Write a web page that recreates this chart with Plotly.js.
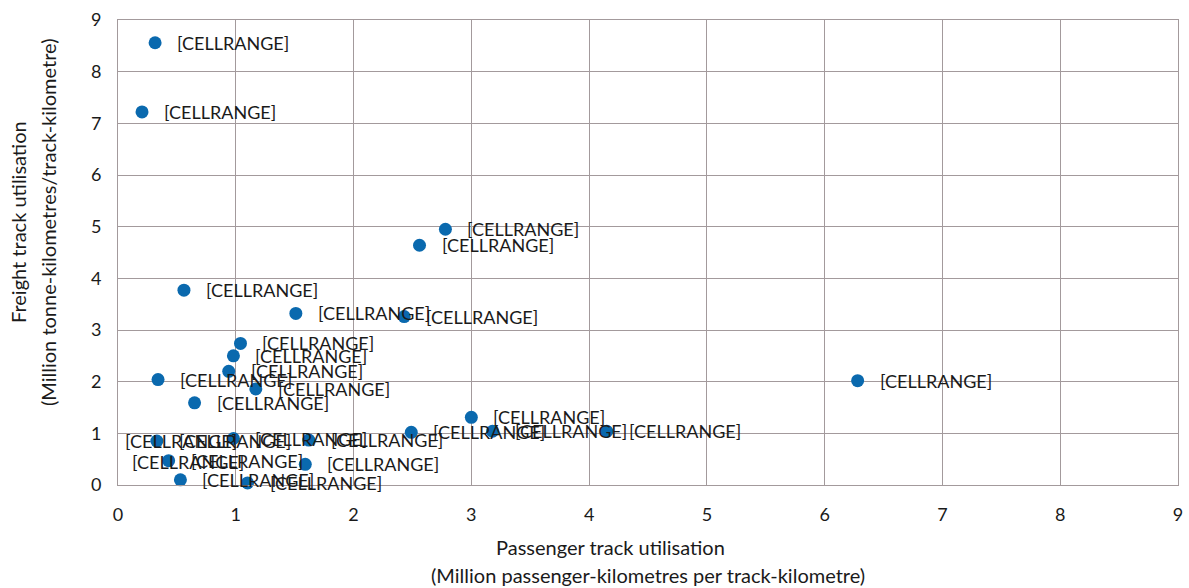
<!DOCTYPE html>
<html>
<head>
<meta charset="utf-8">
<script src="https://cdn.plot.ly/plotly-3.0.1.min.js"></script>
<style>html,body{margin:0;padding:0;background:#fff;}#chart{width:1189px;height:588px;}</style>
</head>
<body>
<div id="chart"></div>
<script>
// Passenger track utilisation (million pkm per track-km)
const passengerUtil = [0.315, 0.204, 2.78, 2.56, 0.56, 1.51, 2.43, 1.04, 0.98, 0.94, 0.34, 1.17, 0.65, 3.00, 2.49, 3.18, 4.15, 6.28, 0.33, 0.98, 1.62, 0.43, 1.59, 0.53, 1.10];
// Freight track utilisation (million tkm per track-km)
const freightUtil = [8.56, 7.22, 4.95, 4.64, 3.77, 3.32, 3.26, 2.74, 2.50, 2.20, 2.04, 1.86, 1.59, 1.31, 1.02, 1.04, 1.04, 2.02, 0.85, 0.90, 0.87, 0.47, 0.40, 0.10, 0.04];
const pointLabels = passengerUtil.map(() => '[CELLRANGE]');
// Extra data labels that sit apart from their points
const extraLabelX = [0.04, 0.10];
const extraLabelY = [0.85, 0.45];
const extraLabels = ['[CELLRANGE]', '[CELLRANGE]'];

const tickVals = [0,1,2,3,4,5,6,7,8,9];
const tickText = ['0','1','2','3','4','5','6','7','8','9'];

const xTitleLines = ['Passenger track utilisation', '(Million passenger-kilometres per track-kilometre)'];
const yTitleLines = ['Freight track utilisation', '(Million tonne-kilometres/track-kilometre)'];

const font = 'Lato, Open Sans, sans-serif';
const textColor = '#1a1a1a';
const gridColor = '#a39a9c';
const labelSize = 18;
const titleSize = 20;

const traces = [
  {
    type: 'scatter', mode: 'markers',
    x: passengerUtil, y: freightUtil,
    marker: {size: 13, color: '#0a69ae'},
    cliponaxis: false, hoverinfo: 'x+y'
  }
];

const annotations = [];
pointLabels.forEach((t, i) => annotations.push({
  x: passengerUtil[i], y: freightUtil[i], xref: 'x', yref: 'y',
  text: t, showarrow: false, xanchor: 'left', yanchor: 'middle', xshift: 20,
  font: {family: font, size: labelSize, color: textColor}
}));
extraLabels.forEach((t, i) => annotations.push({
  x: extraLabelX[i], y: extraLabelY[i], xref: 'x', yref: 'y',
  text: t, showarrow: false, xanchor: 'left', yanchor: 'middle', xshift: 0,
  font: {family: font, size: labelSize, color: textColor}
}));
// Axis titles (two lines each, wider line spacing as in the reference)
const xTitlePos = [[0.465, -0.1333], [0.5, -0.1935]];
xTitleLines.forEach((t, i) => annotations.push({
  x: xTitlePos[i][0], y: xTitlePos[i][1], xref: 'paper', yref: 'paper',
  text: t, showarrow: false, xanchor: 'center', yanchor: 'middle',
  font: {family: font, size: titleSize, color: textColor}
}));
const yTitlePos = [[-0.0943, 0.5656], [-0.066, 0.5656]];
yTitleLines.forEach((t, i) => annotations.push({
  x: yTitlePos[i][0], y: yTitlePos[i][1], xref: 'paper', yref: 'paper',
  text: t, showarrow: false, xanchor: 'center', yanchor: 'middle', textangle: -90,
  font: {family: font, size: titleSize, color: textColor}
}));

const layout = {
  width: 1189, height: 588,
  margin: {l: 118, r: 11, t: 20, b: 103},
  paper_bgcolor: '#fff', plot_bgcolor: '#fff',
  showlegend: false,
  font: {family: font, size: 18, color: textColor},
  annotations: annotations,
  xaxis: {
    range: [0, 9], tickvals: tickVals, ticktext: tickText,
    showgrid: true, gridcolor: gridColor, gridwidth: 1,
    zeroline: false, showline: true, linecolor: gridColor, linewidth: 1, mirror: true,
    ticks: '', ticklen: 0, ticklabelstandoff: 13,
    tickfont: {family: font, size: 18, color: textColor}
  },
  yaxis: {
    range: [0, 9], tickvals: tickVals, ticktext: tickText,
    showgrid: true, gridcolor: gridColor, gridwidth: 1,
    zeroline: false, showline: true, linecolor: gridColor, linewidth: 1, mirror: true,
    ticks: '', ticklen: 0, ticklabelstandoff: 12,
    tickfont: {family: font, size: 18, color: textColor}
  }
};

Plotly.newPlot('chart', traces, layout, {displayModeBar: false, staticPlot: true});
</script>
</body>
</html>
